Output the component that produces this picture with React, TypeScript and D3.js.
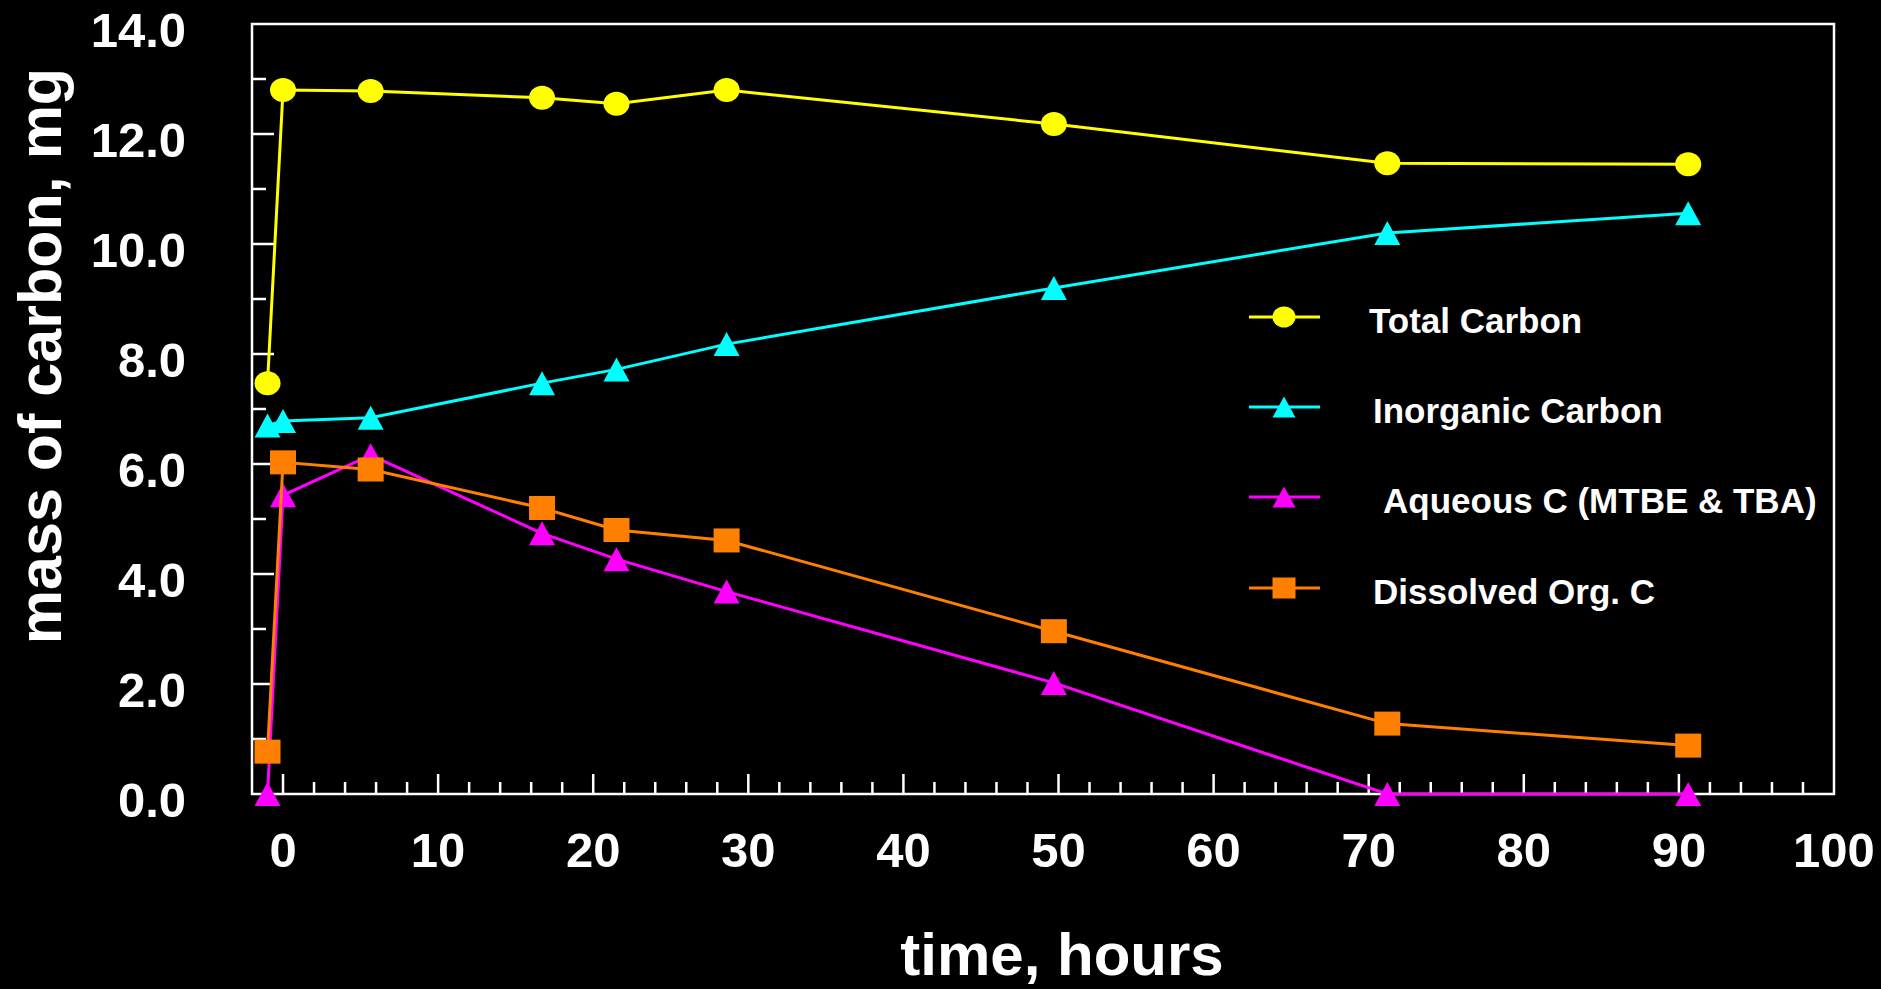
import React from "react";
import * as d3 from "d3";

const hours = [-1, 0, 5.65, 16.7, 21.5, 28.6, 49.7, 71.2, 90.6];
const totalCarbon = [7.47, 12.8, 12.78, 12.66, 12.55, 12.8, 12.18, 11.47, 11.45];
const inorganicCarbon = [6.7, 6.78, 6.84, 7.47, 7.72, 8.18, 9.2, 10.2, 10.56];
const aqueousC = [0, 5.43, 6.16, 4.74, 4.27, 3.68, 2.02, 0, 0];
const dissolvedOrgC = [0.77, 6.03, 5.9, 5.2, 4.8, 4.61, 2.96, 1.28, 0.88];

const seriesNames = ["Total Carbon", "Inorganic Carbon", "Aqueous C (MTBE & TBA)", "Dissolved Org. C"];
const seriesColors = ["#FFFF00", "#00FFFF", "#FF00FF", "#FF8000"];
const seriesShapes = ["circle", "triangle", "triangle", "square"];
const seriesValues = [totalCarbon, inorganicCarbon, aqueousC, dissolvedOrgC];

const xTickValues = [0, 10, 20, 30, 40, 50, 60, 70, 80, 90, 100];
const yTickValues = [0, 2, 4, 6, 8, 10, 12, 14];

const W = 1881;
const H = 989;
const FONT = "'Liberation Sans', Arial, Helvetica, sans-serif";

const legendDx = [0, 4, 14, 4];

function Marker({ shape, cx, cy, color, w, h }: any) {
  if (shape === "circle") {
    return <ellipse cx={cx} cy={cy} rx={w / 2} ry={h / 2} fill={color} />;
  }
  if (shape === "square") {
    return <rect x={cx - w / 2} y={cy - h / 2} width={w} height={h} fill={color} />;
  }
  const p = `M${cx},${cy - h / 2}L${cx + w / 2},${cy + h / 2}L${cx - w / 2},${cy + h / 2}Z`;
  return <path d={p} fill={color} />;
}

export default function App() {
  const x = d3.scaleLinear().domain([-2, 100]).range([252, 1834]);
  const y = d3.scaleLinear().domain([0, 14]).range([794, 24]);

  const xMinor = d3.range(2, 100, 2).filter((v) => v % 10 !== 0);
  const xMajor = d3.range(0, 100, 10);
  const yMinor = d3.range(1, 14, 2);
  const yMajor = d3.range(2, 14, 2);

  const line = d3
    .line<number>()
    .x((_, i) => x(hours[i]))
    .y((d) => y(d));

  const legendRows = [317, 407, 497, 588];

  return (
    <svg width={W} height={H} style={{ display: "block", background: "#000" }} fontFamily={FONT}>
      <style>{`body{margin:0;background:#000}`}</style>
      <rect x={0} y={0} width={W} height={H} fill="#000" />
      {/* frame */}
      <rect
        x={x(-2)}
        y={y(14)}
        width={x(100) - x(-2)}
        height={y(0) - y(14)}
        fill="none"
        stroke="#fff"
        strokeWidth={2.5}
      />
      {/* x ticks */}
      {xMinor.map((v) => (
        <line key={"xm" + v} x1={x(v)} x2={x(v)} y1={y(0)} y2={y(0) - 12} stroke="#fff" strokeWidth={2.5} />
      ))}
      {xMajor.map((v) => (
        <line key={"xM" + v} x1={x(v)} x2={x(v)} y1={y(0)} y2={y(0) - 20} stroke="#fff" strokeWidth={2.5} />
      ))}
      {/* y ticks */}
      {yMinor.map((v) => (
        <line key={"ym" + v} x1={x(-2)} x2={x(-2) + 14} y1={y(v)} y2={y(v)} stroke="#fff" strokeWidth={2.5} />
      ))}
      {yMajor.map((v) => (
        <line key={"yM" + v} x1={x(-2)} x2={x(-2) + 22} y1={y(v)} y2={y(v)} stroke="#fff" strokeWidth={2.5} />
      ))}
      {/* tick labels */}
      {xTickValues.map((v) => (
        <text key={"xl" + v} x={x(v)} y={867} fill="#fff" fontSize={49} fontWeight="bold" textAnchor="middle">
          {v}
        </text>
      ))}
      {yTickValues.map((v) => (
        <text key={"yl" + v} x={186} y={y(v) + 23} fill="#fff" fontSize={49} fontWeight="bold" textAnchor="end">
          {v.toFixed(1)}
        </text>
      ))}
      {/* axis titles */}
      <text x={1062} y={975} fill="#fff" fontSize={60} fontWeight="bold" textAnchor="middle">
        time, hours
      </text>
      <text
        transform={`translate(61,356) rotate(-90)`}
        fill="#fff"
        fontSize={61}
        fontWeight="bold"
        textAnchor="middle"
      >
        mass of carbon, mg
      </text>
      {/* series */}
      {seriesValues.map((vals, si) => (
        <g key={"s" + si}>
          <path d={line(vals) || ""} fill="none" stroke={seriesColors[si]} strokeWidth={3} />
          {vals.map((v, i) => (
            <Marker
              key={i}
              shape={seriesShapes[si]}
              cx={x(hours[i])}
              cy={y(v)}
              color={seriesColors[si]}
              w={26}
              h={24}
            />
          ))}
        </g>
      ))}
      {/* legend */}
      {seriesNames.map((name, si) => (
        <g key={"lg" + si}>
          <line x1={1249} x2={1320} y1={legendRows[si]} y2={legendRows[si]} stroke={seriesColors[si]} strokeWidth={3} />
          <Marker shape={seriesShapes[si]} cx={1284} cy={legendRows[si]} color={seriesColors[si]} w={23} h={21} />
          <text
            x={1369 + legendDx[si]}
            y={legendRows[si] + 16}
            fill="#fff"
            fontSize={35}
            fontWeight="bold"
          >
            {name}
          </text>
        </g>
      ))}
    </svg>
  );
}
